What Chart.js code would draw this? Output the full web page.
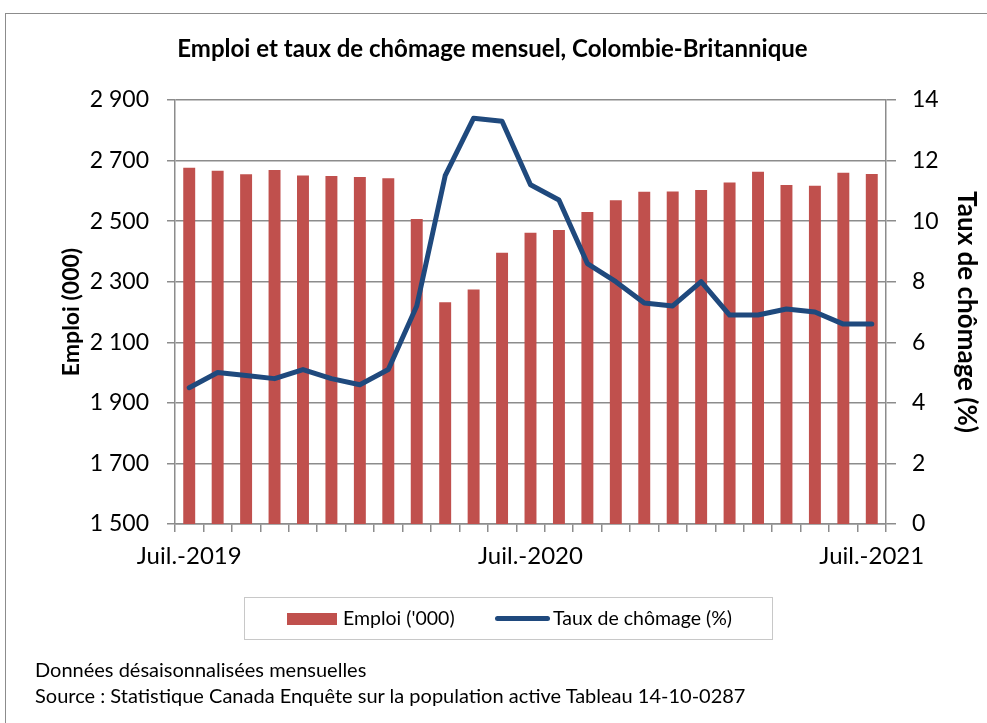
<!DOCTYPE html>
<html>
<head>
<meta charset="utf-8">
<script src="https://cdn.jsdelivr.net/npm/chart.js@4.4.0/dist/chart.umd.min.js"></script>
<style>
  html, body { margin:0; padding:0; background:#fff; }
  body { width:987px; height:723px; position:relative; overflow:hidden; font-family: Lato, "Liberation Sans", sans-serif; }
  #frame { position:absolute; left:5px; top:13px; width:1000px; height:740px; border:1.5px solid #8c8c8c; box-sizing:border-box; }
  #c { position:absolute; left:0; top:0; }
  #title { position:absolute; left:0; width:985px; top:33px; text-align:center; font-weight:bold; font-size:24px; color:#000; white-space:nowrap; }
  #legend { position:absolute; left:244px; top:597px; width:529px; height:43px; border:1.5px solid #c8c8c8; box-sizing:border-box; font-size:19.5px; }
  .sw-bar { position:absolute; left:42px; top:15px; width:50px; height:12px; background:#C0504D; }
  .lbl1 { position:absolute; left:98px; top:8px; white-space:nowrap; }
  .sw-line { position:absolute; left:250px; top:18px; width:55px; height:5px; border-radius:3px; background:#1F497D; }
  .lbl2 { position:absolute; left:308px; top:8px; white-space:nowrap; }
  .note { position:absolute; left:35px; font-size:20px; color:#000; white-space:nowrap; }
</style>
</head>
<body>
<div id="frame"></div>
<canvas id="c" width="987" height="723"></canvas>
<div id="title">Emploi et taux de chômage mensuel, Colombie-Britannique</div>
<div id="legend">
  <div class="sw-bar"></div><div class="lbl1">Emploi ('000)</div>
  <div class="sw-line"></div><div class="lbl2">Taux de chômage (%)</div>
</div>
<div class="note" style="top:657px;">Données désaisonnalisées mensuelles</div>
<div class="note" style="top:683px;">Source : Statistique Canada Enquête sur la population active Tableau 14-10-0287</div>
<script>
const months = ["Juil.-2019","Août-2019","Sept.-2019","Oct.-2019","Nov.-2019","Déc.-2019",
  "Janv.-2020","Févr.-2020","Mars-2020","Avr.-2020","Mai-2020","Juin-2020","Juil.-2020",
  "Août-2020","Sept.-2020","Oct.-2020","Nov.-2020","Déc.-2020","Janv.-2021","Févr.-2021",
  "Mars-2021","Avr.-2021","Mai-2021","Juin-2021","Juil.-2021"];
const emploi = [2676,2666,2655,2669,2651,2649,2646,2642,2507,2232,2274,2396,2462,
  2471,2530,2569,2597,2598,2603,2628,2663,2619,2617,2660,2656];
const chomage = [4.5,5.0,4.9,4.8,5.1,4.8,4.6,5.1,7.2,11.5,13.4,13.3,11.2,
  10.7,8.6,8.0,7.3,7.2,8.0,6.9,6.9,7.1,7.0,6.6,6.6];
const shownLabels = ["Juil.-2019","Juil.-2020","Juil.-2021"];
const leftTicks = [1500,1700,1900,2100,2300,2500,2700,2900];
const rightTicks = [0,2,4,6,8,10,12,14];

const FONT = "Lato, 'Liberation Sans', sans-serif";
const GRID = '#8c8c8c';
function fmt(v){ return String(v).replace(/\B(?=(\d{3})+(?!\d))/g, ' '); }

new Chart(document.getElementById('c'), {
  data: {
    labels: months,
    datasets: [
      { type:'line', label:'Taux de chômage (%)', data: chomage, yAxisID:'y2',
        borderColor:'#1F497D', borderWidth:5, pointRadius:0, tension:0, order:0,
        borderCapStyle:'round', borderJoinStyle:'round' },
      { type:'bar', label:"Emploi ('000)", data: emploi, yAxisID:'y',
        backgroundColor:'#C0504D', barPercentage:0.42, categoryPercentage:1, order:1 }
    ]
  },
  options: {
    responsive:false, animation:false, devicePixelRatio:1,
    layout: { padding: { left:58, right:5, top:100, bottom:150 } },
    plugins: { legend:{display:false}, title:{display:false}, tooltip:{enabled:false} },
    scales: {
      x: {
        offset:true,
        grid: { offset:true, drawOnChartArea:false, drawTicks:true, tickLength:8, color:GRID, lineWidth:1.5 },
        border: { color:GRID, width:1.5 },
        ticks: { autoSkip:false, maxRotation:0, padding:10, color:'#000', font:{family:FONT, size:24},
          callback: function(v, i){ const l = months[i]; return shownLabels.includes(l) ? l : ''; } },
        afterFit: s => { s.height = 49; }
      },
      y: {
        position:'left', min:1500, max:2900,
        afterBuildTicks: s => { s.ticks = leftTicks.map(v => ({value:v})); },
        grid: { color:GRID, lineWidth:1.5, tickLength:8 },
        border: { color:GRID, width:1.5 },
        ticks: { color:'#000', padding:18, font:{family:FONT, size:23}, callback: v => fmt(v) },
        title: { display:true, text:'Emploi (000)', color:'#000', font:{family:FONT, size:23, weight:'bold'}, padding:0 },
        afterFit: s => { s.width = 117; }
      },
      y2: {
        position:'right', min:0, max:14,
        afterBuildTicks: s => { s.ticks = rightTicks.map(v => ({value:v})); },
        grid: { drawOnChartArea:false, color:GRID, lineWidth:1.5, tickLength:10 },
        border: { color:GRID, width:1.5 },
        ticks: { color:'#000', padding:16, font:{family:FONT, size:23} },
        title: { display:true, text:'Taux de chômage (%)', color:'#000', font:{family:FONT, size:26, weight:'bold'}, padding:0 },
        afterFit: s => { s.width = 96; }
      }
    }
  }
});
</script>
</body>
</html>
